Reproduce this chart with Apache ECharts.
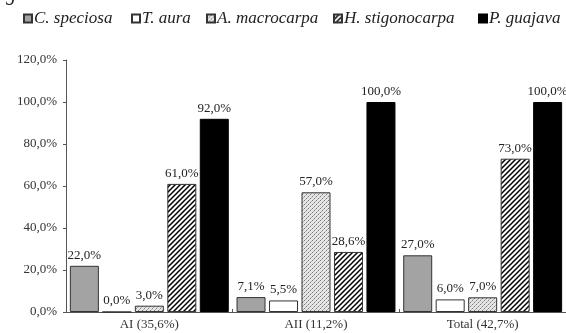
<!DOCTYPE html>
<html>
<head>
<meta charset="utf-8">
<script src="https://cdn.jsdelivr.net/npm/echarts@6/dist/echarts.min.js"></script>
<style>
  html, body { margin: 0; padding: 0; background: #fff; }
  #chart { width: 566px; height: 333px; }
</style>
</head>
<body>
<div id="chart"></div>
<script>
// data
const categories = ['AI (35,6%)', 'AII (11,2%)', 'Total (42,7%)'];
const seriesNames = ['C. speciosa', 'T. aura', 'A. macrocarpa', 'H. stigonocarpa', 'P. guajava'];
const cSpeciosa = [22, 7.1, 27];
const tAura = [0, 5.5, 6];
const aMacrocarpa = [3, 57, 7];
const hStigonocarpa = [61, 28.6, 73];
const pGuajava = [92, 100, 100];
const yTicks = [0, 20, 40, 60, 80, 100, 120];

// patterns
function hatchPattern() {
  const c = document.createElement('canvas');
  c.width = 5; c.height = 5;
  const ctx = c.getContext('2d');
  ctx.fillStyle = '#fff';
  ctx.fillRect(0, 0, 5, 5);
  ctx.strokeStyle = '#000';
  ctx.lineWidth = 1.5;
  ctx.beginPath();
  ctx.moveTo(-1, 6); ctx.lineTo(6, -1);
  ctx.moveTo(-1, 1); ctx.lineTo(1, -1);
  ctx.moveTo(4, 6); ctx.lineTo(6, 4);
  ctx.stroke();
  return c;
}
function stipplePattern() {
  const c = document.createElement('canvas');
  c.width = 4; c.height = 4;
  const ctx = c.getContext('2d');
  ctx.fillStyle = '#e6e6e6';
  ctx.fillRect(0, 0, 4, 4);
  ctx.fillStyle = '#7a7a7a';
  ctx.fillRect(0, 0, 1, 1);
  ctx.fillRect(2, 2, 1, 1);
  ctx.fillStyle = '#b0b0b0';
  ctx.fillRect(3, 1, 1, 1);
  ctx.fillRect(1, 3, 1, 1);
  return c;
}

const fmt = v => v.toFixed(1).replace('.', ',') + '%';
const serifFont = '"Liberation Serif", "DejaVu Serif", serif';

const fills = [
  '#a3a3a3',
  '#ffffff',
  { image: stipplePattern(), repeat: 'repeat' },
  { image: hatchPattern(), repeat: 'repeat' },
  '#000000'
];
const dataSets = [cSpeciosa, tAura, aMacrocarpa, hStigonocarpa, pGuajava];
const legendLeft = [18, 126, 201, 328, 473];

const chart = echarts.init(document.getElementById('chart'));
chart.setOption({
  animation: false,
  backgroundColor: '#fff',
  textStyle: { fontFamily: serifFont },
  graphic: [{
    type: 'text', left: 6, top: -15,
    style: { text: 'g', font: 'italic 20px "Liberation Serif", serif', fill: '#222' }
  }],
  legend: seriesNames.map((name, i) => ({
    top: 5,
    left: legendLeft[i],
    itemWidth: 8,
    itemHeight: 8,
    icon: 'rect',
    textStyle: { fontFamily: serifFont, fontStyle: 'italic', fontSize: 17, color: '#222', padding: [0, 0, 0, -3] },
    data: [name]
  })),
  grid: { left: 66, right: -4, top: 60, bottom: 21 },
  xAxis: {
    type: 'category',
    data: categories,
    axisLine: { lineStyle: { color: '#555', width: 1 } },
    axisTick: { show: true, inside: true, length: 3, lineStyle: { color: '#555' } },
    axisLabel: { fontFamily: serifFont, fontSize: 13, color: '#333', margin: 6 }
  },
  yAxis: {
    type: 'value',
    min: yTicks[0],
    max: yTicks[yTicks.length - 1],
    interval: 20,
    splitLine: { show: false },
    axisLine: { show: true, lineStyle: { color: '#555', width: 1 } },
    axisTick: { show: true, length: 3, lineStyle: { color: '#555' } },
    axisLabel: { fontFamily: serifFont, fontSize: 13, color: '#333', margin: 9, formatter: fmt }
  },
  series: seriesNames.map((name, i) => ({
    name: name,
    type: 'bar',
    data: dataSets[i],
    barWidth: 29,
    barGap: '12%',
    itemStyle: {
      color: fills[i],
      borderColor: i === 4 ? '#000' : '#333',
      borderWidth: 1
    },
    label: {
      show: true,
      position: 'top',
      distance: 4,
      fontFamily: serifFont,
      fontSize: 13,
      color: '#222',
      formatter: p => fmt(p.value)
    }
  }))
});
</script>
</body>
</html>
